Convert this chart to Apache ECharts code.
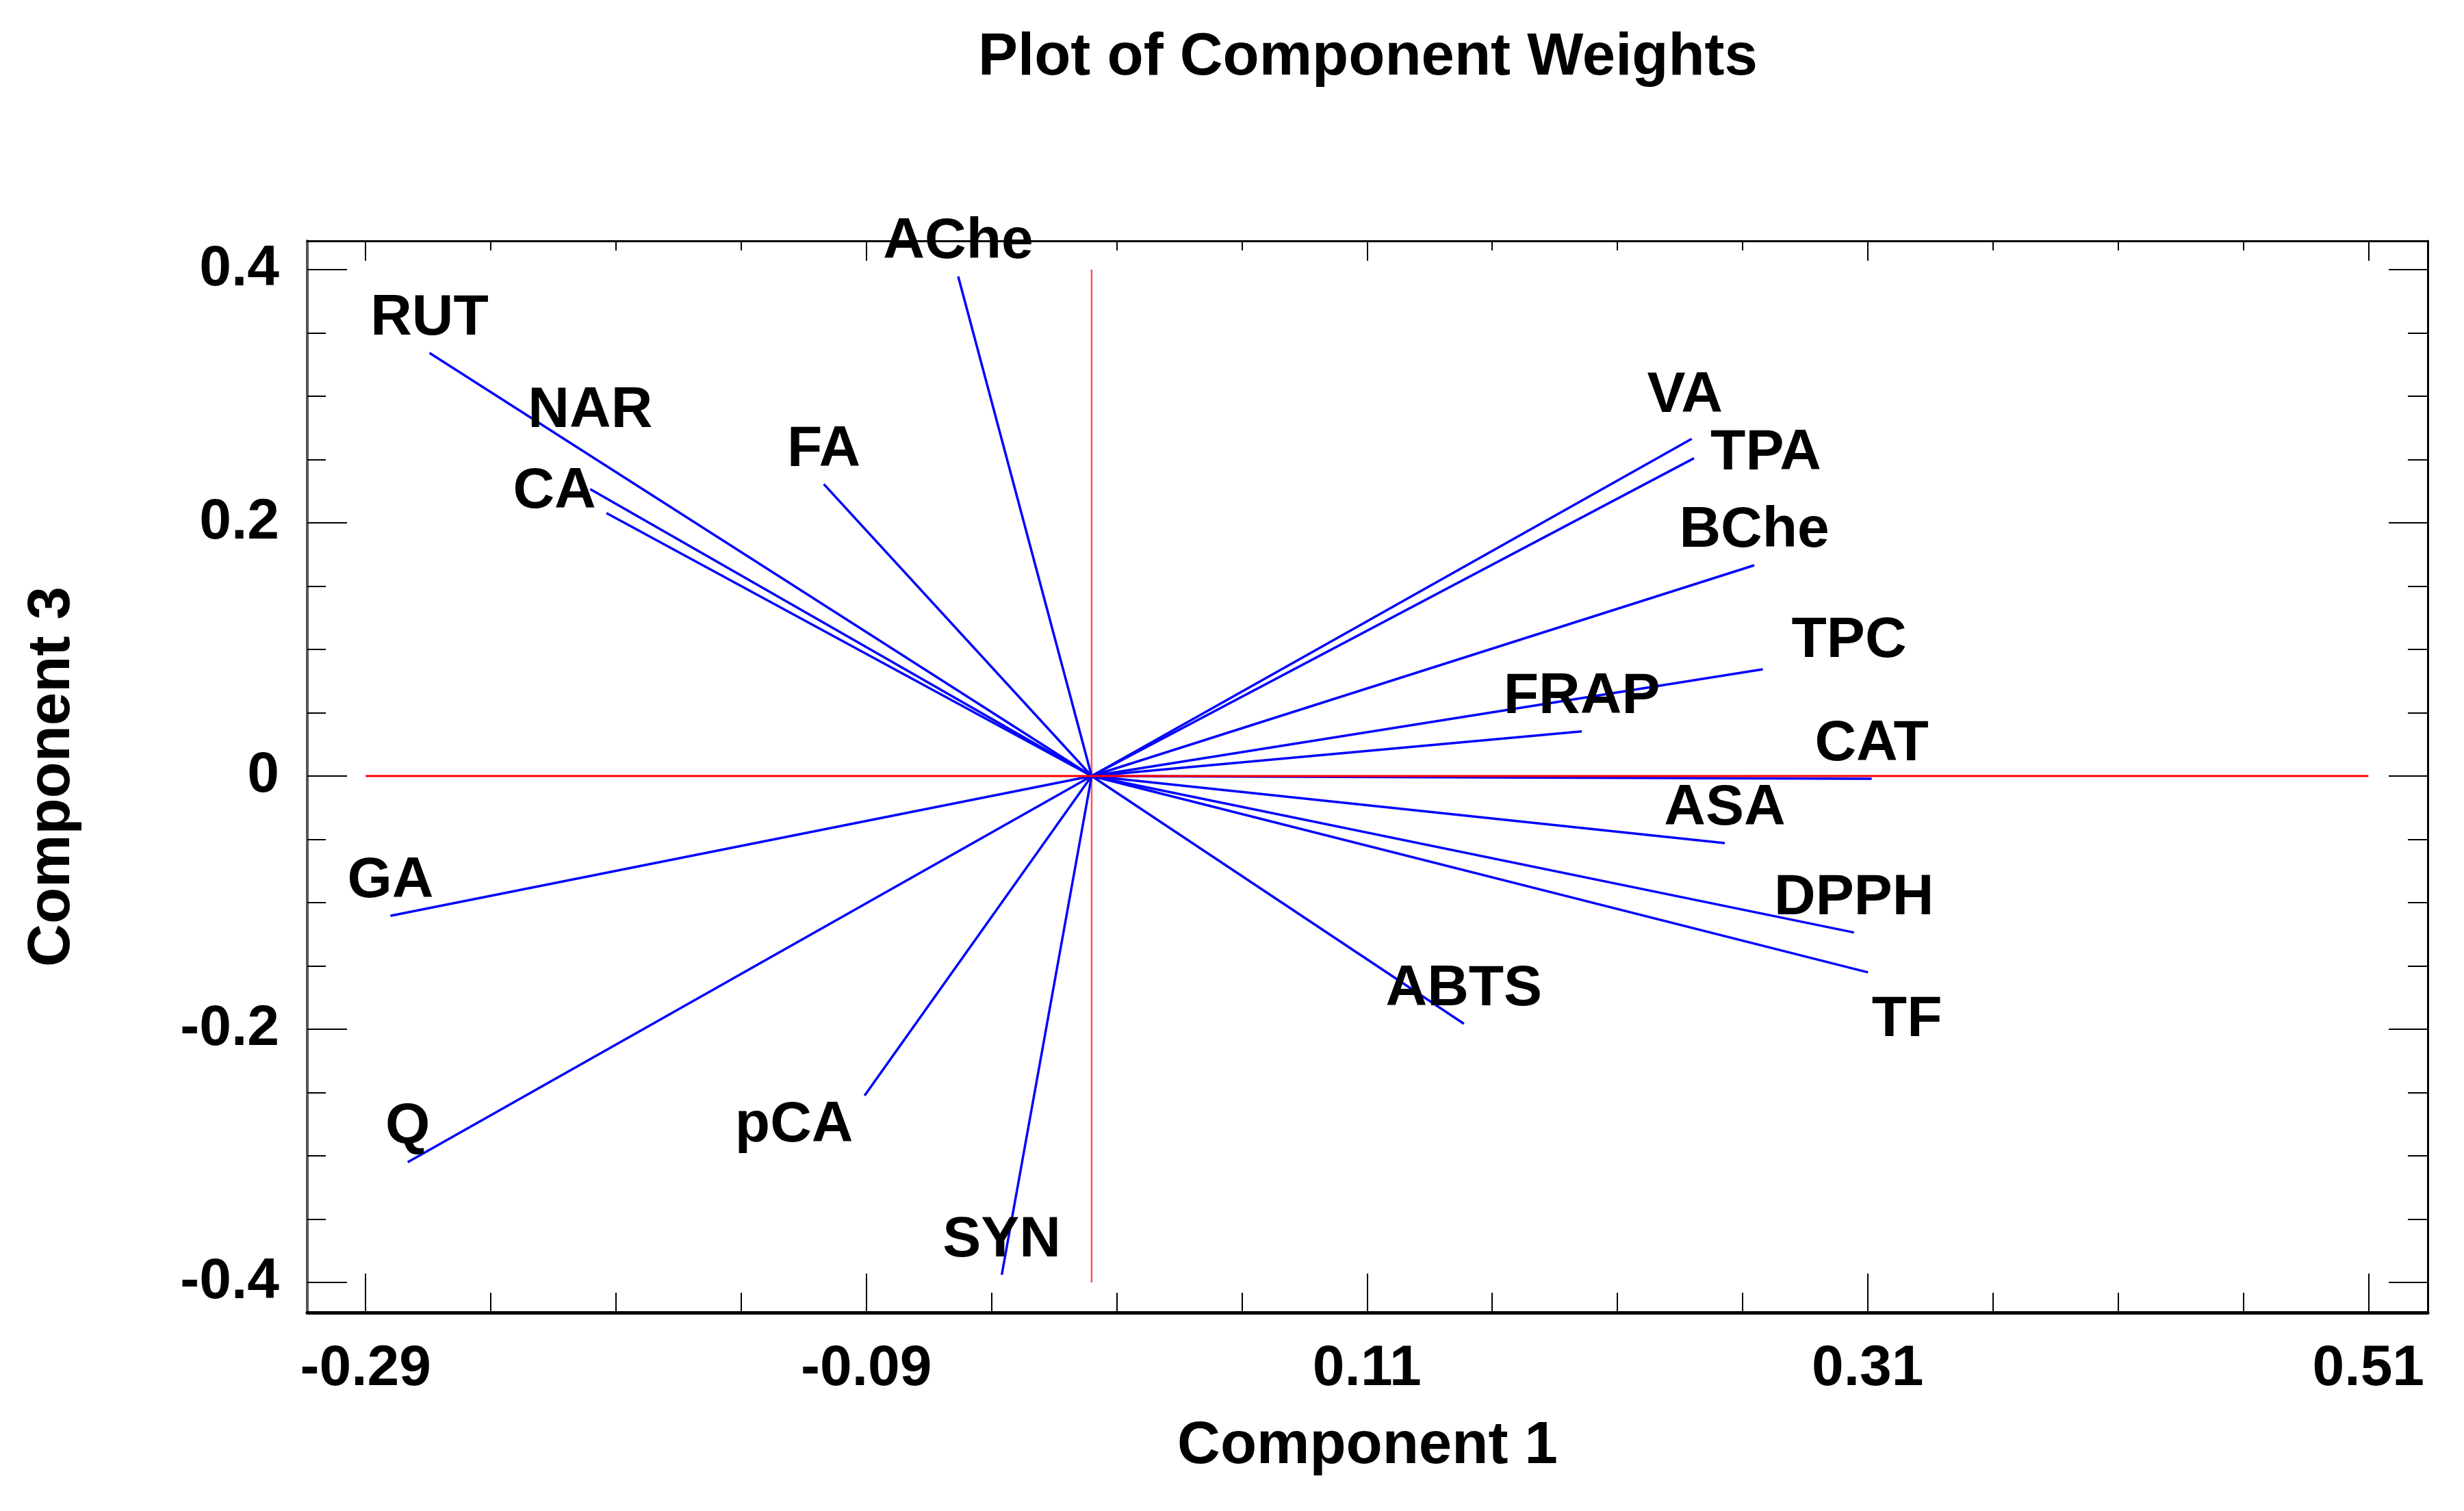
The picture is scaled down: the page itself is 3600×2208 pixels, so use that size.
<!DOCTYPE html>
<html>
<head>
<meta charset="utf-8">
<script src="https://cdn.jsdelivr.net/npm/echarts@6/dist/echarts.min.js"></script>
<style>html,body{margin:0;padding:0;background:#fff}#c{width:3600px;height:2208px}</style>
</head>
<body>
<div id="c"></div>
<script>
// ---- data ----
const categories = ['RUT','NAR','CA','FA','AChe','VA','TPA','BChe','TPC','FRAP','CAT','ASA','DPPH','TF','ABTS','GA','Q','pCA','SYN'];
const component1 = [-0.2645,-0.2003,-0.1938,-0.1070,-0.0533,0.2397,0.2406,0.2647,0.2681,0.1958,0.3116,0.2529,0.3045,0.3101,0.1487,-0.2801,-0.2732,-0.0907,-0.0359];
const component3 = [0.3342,0.2266,0.2077,0.2306,0.3946,0.2663,0.2510,0.1665,0.0843,0.0353,-0.0022,-0.0530,-0.1236,-0.1551,-0.1957,-0.1104,-0.3050,-0.2524,-0.3939];
const xTickValues = [-0.29,-0.09,0.11,0.31,0.51];
const xTickLabels = ['-0.29','-0.09','0.11','0.31','0.51'];
const yTickValues = [-0.4,-0.2,0,0.2,0.4];
const yTickLabels = ['-0.4','-0.2','0','0.2','0.4'];
const refLineH = [[-0.29,0],[0.51,0]];
const refLineV = [[0,-0.4],[0,0.4]];

// ---- styling ----
const FONT = '"Liberation Sans", Arial, sans-serif';
const X_MIN = -0.3133, X_MAX = 0.5337, Y_MIN = -0.4238, Y_MAX = 0.4227;
const labelOffsets = {
  NAR: [0,-114], CA: [-76,-31], VA: [-10,-62], TPA: [105,-7],
  TPC: [126,-41], TF: [57,70], pCA: [-103,44]
};
const DEFAULT_OFFSET = [0,-50];

function minorBetween(majors, n) {
  const out = [];
  for (let i = 0; i < majors.length - 1; i++) {
    const a = majors[i], b = majors[i+1];
    for (let k = 1; k < n; k++) out.push(+(a + (b - a) * k / n).toFixed(6));
  }
  return out;
}
const xMinor = minorBetween(xTickValues, 4);
const yMinor = minorBetween(yTickValues, 4);

function fmt(values, labels) {
  return function (v) {
    const i = values.findIndex(t => Math.abs(t - v) < 1e-6);
    return i >= 0 ? labels[i] : '';
  };
}

const lineStyleAxis = (w, c) => ({ color: c || '#000', width: w });

function xAx(position, ticks, len, showLine, extra) {
  return Object.assign({
    type: 'value', position, min: X_MIN, max: X_MAX, gridIndex: 0,
    axisLine: { show: showLine, onZero: false, lineStyle: lineStyleAxis(position === 'bottom' ? 5 : 3) },
    axisTick: { show: true, inside: true, length: len, customValues: ticks, lineStyle: { color: '#000', width: 2 } },
    axisLabel: { show: false },
    splitLine: { show: false }
  }, extra || {});
}
function yAx(position, ticks, len, showLine, extra) {
  return Object.assign({
    type: 'value', position, min: Y_MIN, max: Y_MAX, gridIndex: 0,
    axisLine: { show: showLine, onZero: false, lineStyle: lineStyleAxis(position === 'left' ? 4 : 3, position === 'left' ? '#555' : '#000') },
    axisTick: { show: true, inside: true, length: len, customValues: ticks, lineStyle: { color: '#000', width: 2 } },
    axisLabel: { show: false },
    splitLine: { show: false }
  }, extra || {});
}

const tickLabelStyle = { fontFamily: FONT, fontSize: 84, fontWeight: 'bold', color: '#000' };
const nameStyle = { fontFamily: FONT, fontSize: 87, fontWeight: 'bold', color: '#000' };

const vectorSeries = categories.map((name, i) => ({
  type: 'line', name, xAxisIndex: 0, yAxisIndex: 0,
  data: [[0,0],[component1[i], component3[i]]],
  showSymbol: false, symbol: 'none', silent: true, z: 3,
  lineStyle: { color: '#0000ff', width: 3.5 }
}));

const labelSeries = {
  type: 'scatter', xAxisIndex: 0, yAxisIndex: 0, symbolSize: 1, z: 5, silent: true,
  itemStyle: { color: 'rgba(255,255,255,0)', opacity: 1 },
  data: categories.map((name, i) => ({
    name, value: [component1[i], component3[i]],
    label: { offset: labelOffsets[name] || DEFAULT_OFFSET }
  })),
  label: {
    show: true, position: 'inside', formatter: p => p.name, opacity: 1,
    fontFamily: FONT, fontSize: 84, fontWeight: 'bold', color: '#000',
    textBorderWidth: 0, align: 'center', verticalAlign: 'middle'
  }
};

const option = {
  animation: false,
  backgroundColor: '#ffffff',
  title: {
    text: 'Plot of Component Weights', left: 1429, top: 42, padding: 0,
    textStyle: nameStyle
  },
  grid: { left: 449, top: 352, width: 3098, height: 1566, outerBoundsMode: 'none' },
  xAxis: [
    xAx('bottom', xTickValues, 57, true, {
      axisLabel: { show: true, customValues: xTickValues, formatter: fmt(xTickValues, xTickLabels), margin: 41, ...tickLabelStyle },
      name: 'Component 1', nameLocation: 'middle', nameGap: 153, nameTextStyle: nameStyle
    }),
    xAx('bottom', xMinor, 29, false),
    xAx('top', xTickValues, 29, true),
    xAx('top', xMinor, 14, false)
  ],
  yAxis: [
    yAx('left', yTickValues, 58, true, {
      axisLabel: { show: true, customValues: yTickValues, formatter: fmt(yTickValues, yTickLabels), margin: 41, ...tickLabelStyle },
      name: 'Component 3', nameLocation: 'middle', nameGap: 328, nameTextStyle: nameStyle
    }),
    yAx('left', yMinor, 27, false),
    yAx('right', yTickValues, 57, true),
    yAx('right', yMinor, 29, false)
  ],
  series: [
    { type: 'line', name: 'refV', data: refLineV, showSymbol: false, symbol: 'none', silent: true, z: 2,
      lineStyle: { color: '#ff5555', width: 2.5 } },
    ...vectorSeries,
    { type: 'line', name: 'refH', data: refLineH, showSymbol: false, symbol: 'none', silent: true, z: 4,
      lineStyle: { color: '#ff0000', width: 3 } },
    labelSeries
  ]
};

const chart = echarts.init(document.getElementById('c'), null, { renderer: 'canvas', width: 3600, height: 2208 });
chart.setOption(option);
</script>
</body>
</html>
